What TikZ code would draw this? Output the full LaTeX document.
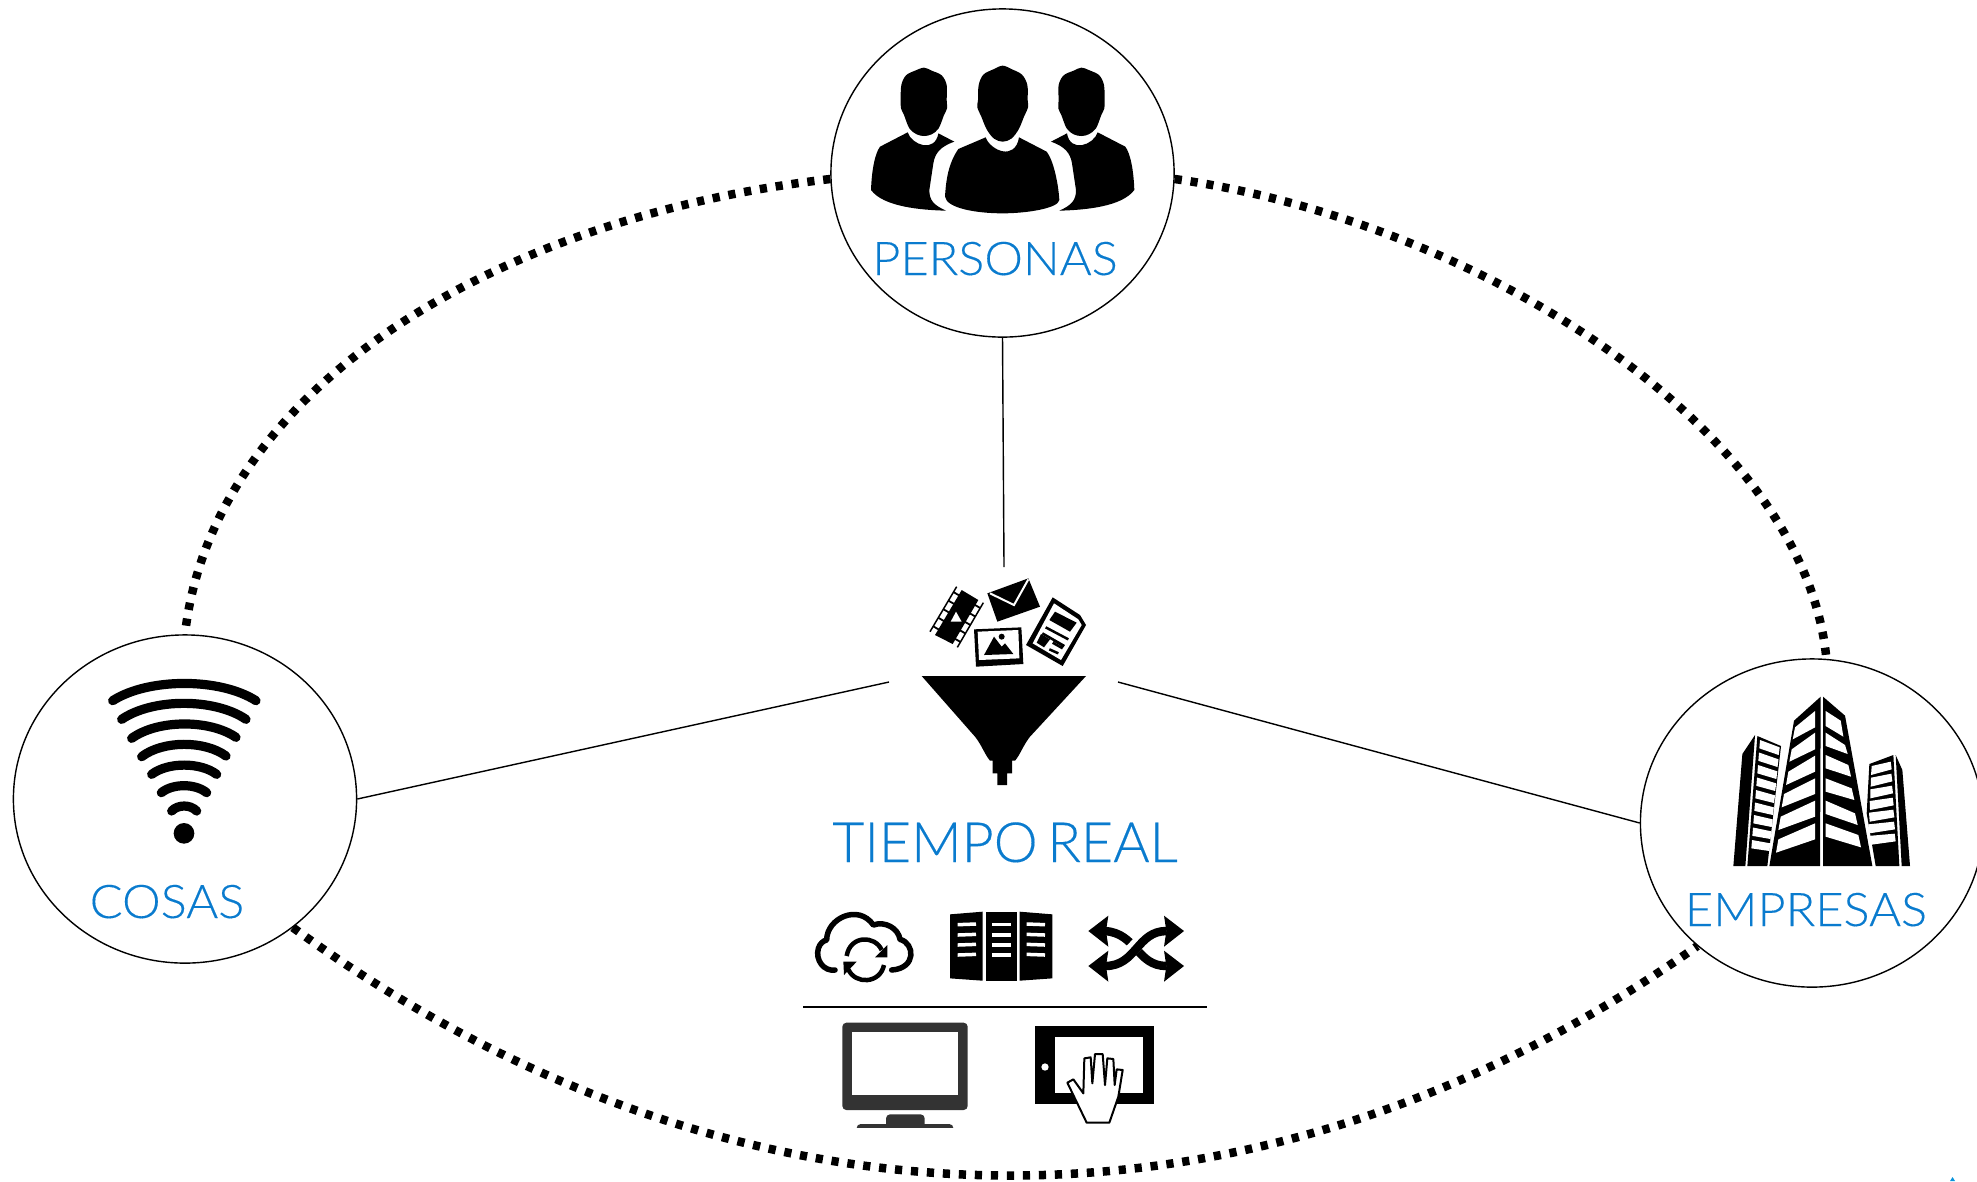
\documentclass[tikz,border=0pt]{standalone}
\usepackage{fontspec}
\usepackage{xcolor}
\setmainfont{Lato Light}[FakeBold=0.25]
\newfontfamily\hubfont{Lato Light}[FakeStretch=1.05,FakeBold=0.25]
\usetikzlibrary{shapes.geometric}
\definecolor{labelblue}{HTML}{0A7BCE}
\definecolor{screengrey}{HTML}{333333}
\tikzset{
  hub/.style={draw,ellipse,inner sep=0pt,minimum width=3.43cm,minimum height=3.28cm},
  ringdots/.style={line width=0.085cm,dash pattern=on 0.072cm off 0.088cm},
  hublabel/.style={text=labelblue,anchor=base,inner sep=0pt,font=\hubfont\fontsize{13.2}{15}\selectfont},
  bigband/.style={line width=0.085cm},
  wifiarc/.style={line width=0.092cm,line cap=round}
}
\newcommand{\sideperson}{
  \fill plot[smooth cycle,tension=0.55] coordinates {(312,203) (285,212) (258,226) (244,255) (242,300) (243,325) (252,345) (268,385) (290,403) (312,408) (335,403) (356,385) (372,345) (381,325) (380,300) (380,255) (365,226) (335,212)};
  \fill (263,397) .. controls (275,435) and (345,460) .. (355,400) -- (403,425) .. controls (360,440) and (345,460) .. (340,490) -- (328,570) .. controls (328,600) and (340,615) .. (378,632) .. controls (300,630) and (190,620) .. (153,570) .. controls (155,510) and (165,460) .. (180,440) -- cycle;
}
\begin{document}
\begin{tikzpicture}[x=0.01cm,y=-0.01cm]
\useasboundingbox (0,0) rectangle (1977,1181);

%hubs
\node[hub] (personas) at (1002.5,173) {};
\node[hub] (cosas) at (185,799) {};
\node[hub] (empresas) at (1812,823) {};
\coordinate (funneltop) at (1004,567);
\coordinate (funnelleft) at (889,682);
\coordinate (funnelright) at (1118,682);

%ring
\draw [ringdots] (personas.182) .. controls (490,218) and (212,392) .. (cosas.north);
\draw [ringdots] (personas.-2) .. controls (1480,222) and (1805,430) .. (empresas.85);
\draw [ringdots] (cosas.-50) .. controls (743,1255) and (1260,1255) .. (empresas.227);

%spokes
\draw (personas.south) -- (funneltop);
\draw (cosas.east) -- (funnelleft);
\draw (empresas.west) -- (funnelright);

%labels
\node[hublabel] (personaslabel) at (995,275) {PERSONAS};
\node[hublabel] (cosaslabel) at (167,918) {COSAS};
\node[hublabel] (empresaslabel) at (1806,926) {EMPRESAS};
\node[hublabel,font=\rmfamily\fontsize{15.8}{18}\selectfont] (tiemporeal) at (1005,862) {TIEMPO\hspace{-0.1em} REAL};

%people
\begin{scope}[shift={(820,0)},scale=1/3]
\sideperson
\fill plot[smooth cycle,tension=0.55] coordinates {(548,197) (520,208) (490,224) (476,255) (474,300) (472,322) (484,350) (500,388) (522,416) (548,425) (574,416) (596,388) (612,350) (624,322) (623,300) (622,255) (606,224) (576,208)};
\fill (497,412) .. controls (510,450) and (585,485) .. (597,412) -- (680,455) .. controls (700,480) and (715,550) .. (718,600) .. controls (715,625) and (620,640) .. (548,640) .. controls (470,640) and (380,625) .. (375,590) .. controls (378,540) and (385,490) .. (415,447) -- cycle;
\end{scope}
\begin{scope}[shift={(1185.3,0)},xscale=-1,scale=1/3]
\sideperson
\end{scope}

%funnel
\begin{scope}[shift={(880,560)},scale=1/3]
\fill (125,348) -- (618,348) -- (450,530) .. controls (430,555) and (420,585) .. (405,602) -- (396,602) -- (396,640) -- (381,640) -- (381,675) -- (352,675) -- (352,640) -- (338,640) -- (338,602) -- (330,602) .. controls (315,585) and (305,555) .. (285,530) -- cycle;
%film
\fill (165,225) -- (245,90) -- (295,120) -- (218,252) -- cycle;
\draw [line width=0.015cm] (150,215) -- (230,80) (232,262) -- (310,128);
\foreach \t in {0.12,0.31,0.5,0.69,0.88} {
  \draw [line width=0.018cm] (150+80*\t,215-135*\t) -- ++(17,10);
  \draw [line width=0.018cm] (232+78*\t,262-134*\t) -- ++(-17,-10);
}
\fill [white] (228,155) -- (245,185) -- (212,185) -- cycle;
%envelope
\fill (322,100) -- (445,55) -- (480,140) -- (352,185) -- cycle;
\draw [white,line width=0.02cm] (330,100) -- (402,135) -- (445,58);
%picture
\fill (282,208) -- (424,202) -- (430,312) -- (288,320) -- cycle;
\fill [white] (293,215) -- (415,210) -- (418,295) -- (297,300) -- cycle;
\fill (312,285) -- (342,230) -- (365,260) -- (375,250) -- (400,282) -- cycle;
\fill (365,230) circle[radius=9];
%sheet
\fill (518,112) -- (600,165) -- (618,195) -- (548,318) -- (438,255) -- cycle;
\fill [white] (522,130) -- (595,178) -- (605,195) -- (543,300) -- (458,250) -- cycle;
\fill (525,155) -- (590,188) -- (570,215) -- (508,180) -- cycle;
\fill (483,222) -- (510,238) -- (492,262) -- (470,248) -- cycle;
\draw [line width=0.025cm] (497,202) -- (565,238) (487,220) -- (553,258) (518,248) -- (548,265) (508,268) -- (535,280);
\end{scope}

%separator
\coordinate (ruleleft) at (803,1007);
\coordinate (ruleright) at (1207,1007);
\draw (ruleleft) -- (ruleright);

%tools
\begin{scope}[shift={(780,880)},scale=1/3]
%cloud
\draw [line width=0.055cm,line cap=round,line join=round] (165,270) .. controls (132,275) and (105,240) .. (115,205) .. controls (120,190) and (130,182) .. (140,180) .. controls (140,115) and (235,70) .. (280,135) .. controls (315,122) and (355,145) .. (360,178) .. controls (405,190) and (410,265) .. (335,270);
\draw [line width=0.045cm] (200,228) .. controls (210,165) and (285,165) .. (305,210);
\fill (322,195) -- (322,232) -- (285,232) -- cycle;
\draw [line width=0.045cm] (312,255) .. controls (300,312) and (225,314) .. (205,268);
\fill (190,245) -- (230,245) -- (192,285) -- cycle;
%panels
\fill (510,103) -- (608,95) -- (608,302) -- (510,295) -- cycle;
\fill (618,95) -- (711,95) -- (711,302) -- (618,302) -- cycle;
\fill (719,95) -- (817,103) -- (817,295) -- (719,302) -- cycle;
\foreach \by in {134,165,195,225} {
  \draw [white,line width=0.035cm] (533,\by) -- (588,\by-2);
  \draw [white,line width=0.035cm] (636,\by) -- (693,\by);
  \draw [white,line width=0.035cm] (740,\by-2) -- (795,\by);
}
%shuffle
\draw [bigband] (975,153) .. controls (1070,160) and (1070,258) .. (1160,258);
\fill (925,153) -- (985,107) -- (978,153) -- (985,200) -- cycle;
\fill (1212,258) -- (1152,212) -- (1159,258) -- (1152,305) -- cycle;
\draw [white,line width=0.13cm] (1030,232) .. controls (1060,210) and (1080,175) .. (1110,165);
\draw [bigband] (975,258) .. controls (1070,258) and (1070,153) .. (1160,153);
\fill (925,258) -- (985,212) -- (978,258) -- (985,305) -- cycle;
\fill (1212,153) -- (1152,107) -- (1159,153) -- (1152,200) -- cycle;
%monitor
\fill [screengrey,rounded corners=0.04cm] (187,428) rectangle (563,690);
\fill [white] (215,457) rectangle (535,645);
\fill [screengrey,rounded corners=0.04cm] (318,760) rectangle (434,703);
\fill [screengrey,rounded corners=0.04cm] (230,760) rectangle (520,732);
\fill [white] (200,745) rectangle (550,770);
%tablet
\fill (766,437) rectangle (1121,673);
\fill [white] (825,471) rectangle (1088,640);
\fill [white] (795,561) circle[radius=11];
\draw [fill=white,line width=0.02cm,line join=round] (920,728) -- (862,608) -- (880,598) -- (910,640) -- (913,535) -- (932,532) -- (937,610) -- (945,522) -- (968,522) -- (975,615) -- (982,535) -- (1000,537) -- (1004,615) -- (1010,568) -- (1028,570) -- (1015,650) -- (988,728) -- cycle;
\end{scope}

%wifi
\begin{scope}[shift={(0,620)},scale=1/3]
\foreach \xa/\ya/\xb/\yb/\yc in {338/242/768/242/173,365/298/738/298/234,395/355/708/352/298,425/410/678/408/361,455/463/650/463/426,484/518/620/518/490,515/573/590/573/553}
  \draw [wifiarc] (\xa,\ya) .. controls (\xa+0.25*\xb-0.25*\xa,\yc) and (\xb-0.25*\xb+0.25*\xa,\yc) .. (\xb,\yb);
\fill (552,640) circle[radius=31];
\end{scope}

%buildings
\begin{scope}[shift={(1640,650)},scale=1/3]
\fill (542,140) -- (462,212) -- (388,648) -- (540,648) -- cycle;
\fill (549,140) -- (615,197) -- (697,648) -- (549,648) -- cycle;
\foreach \wa/\wb/\wc/\wd/\xd in {232/183/232/268/458,298/248/298/335/448,365/317/365/405/438,432/385/432/472/425,500/452/500/540/415,568/520/568/608/408}
  \fill [white] (\xd+7,\wa) -- (525,\wb) -- (525,\wc) -- (\xd,\wd) -- cycle;
\foreach \wa/\wb/\wc/\wd/\xb in {183/212/260/228/602,248/285/312/288/615,315/345/380/355/625,385/415/450/425/635,452/490/525/492/645,520/555/592/560/655}
  \fill [white] (557,\wa) -- (\xb,\wb) -- (\xb+8,\wc) -- (557,\wd) -- cycle;
%left block
\fill (345,255) -- (307,312) -- (280,648) -- (316,648) -- cycle;
\fill (352,258) -- (423,288) -- (382,648) -- (322,648) -- cycle;
\foreach \i in {0,...,8}
  \fill [white] (360-3*\i,270+37.5*\i) -- (419-3.5*\i,292+36*\i) -- (416-3.5*\i,315+36*\i) -- (358-3*\i,295+37.5*\i) -- cycle;
%right block
\fill (688,342) -- (760,315) -- (778,648) -- (707,648) -- (680,490) -- cycle;
\fill (767,315) -- (787,360) -- (810,648) -- (785,648) -- cycle;
\foreach \i in {0,...,6}
  \fill [white] (695-2*\i,348+35*\i) -- (752+2*\i,335+36*\i) -- (755+2*\i,358+36*\i) -- (693-1*\i,375+35*\i) -- cycle;
\end{scope}

%corner speck
\fill [cyan!80!blue] (1950,1181) -- (1952.5,1177) -- (1955,1181) -- cycle;
\end{tikzpicture}
\end{document}
